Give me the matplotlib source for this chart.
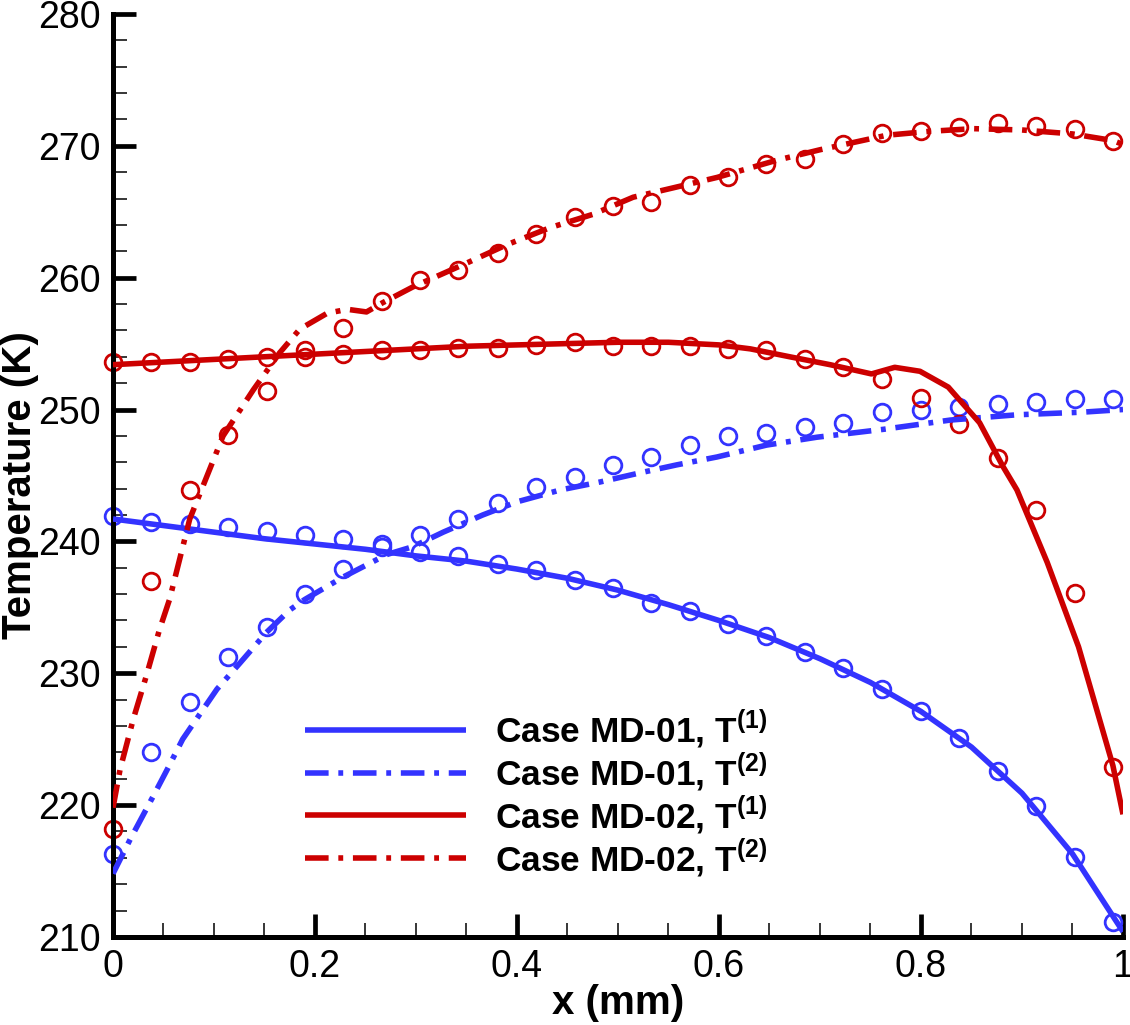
import matplotlib
matplotlib.use("Agg")
import matplotlib.pyplot as plt
from matplotlib.ticker import MultipleLocator

plt.rcParams['font.family'] = ['Liberation Sans', 'DejaVu Sans']
plt.rcParams['mathtext.fontset'] = 'custom'
plt.rcParams['mathtext.rm'] = 'Liberation Sans'
plt.rcParams['mathtext.bf'] = 'Liberation Sans:bold'
plt.rcParams['lines.scale_dashes'] = False

# ---------------- data ----------------
x_mk = [0.000, 0.038, 0.076, 0.114, 0.152, 0.190, 0.228, 0.266, 0.304, 0.342,
        0.381, 0.419, 0.457, 0.495, 0.533, 0.571, 0.609, 0.647, 0.685, 0.723,
        0.761, 0.800, 0.838, 0.876, 0.914, 0.952, 0.990]
md01_t1_mk = [241.9, 241.5, 241.3, 241.1, 240.8, 240.5, 240.2, 239.6, 239.2, 238.9,
              238.3, 237.8, 237.1, 236.5, 235.3, 234.7, 233.7, 232.8, 231.6, 230.4,
              228.8, 227.1, 225.1, 222.6, 219.9, 216.1, 211.1]
md01_t2_mk = [216.3, 224.0, 227.8, 231.2, 233.5, 236.0, 237.9, 239.8, 240.5, 241.7,
              242.9, 244.1, 244.9, 245.8, 246.4, 247.3, 248.0, 248.2, 248.7, 249.0,
              249.8, 250.0, 250.2, 250.4, 250.6, 250.8, 250.8]
md02_t1_mk = [253.6, 253.6, 253.6, 253.8, 254.0, 254.0, 254.2, 254.5, 254.5, 254.7,
              254.7, 254.9, 255.1, 254.8, 254.8, 254.8, 254.6, 254.5, 253.8, 253.2,
              252.3, 250.9, 248.9, 246.3, 242.4, 236.1, 222.9]
md02_t2_mk = [218.2, 237.0, 243.9, 248.1, 251.4, 254.5, 256.2, 258.2, 259.8, 260.6,
              261.9, 263.3, 264.6, 265.4, 265.7, 267.0, 267.6, 268.6, 269.0, 270.1,
              271.0, 271.1, 271.4, 271.7, 271.5, 271.3, 270.4]

x_md01_t1 = [0.0, 0.05, 0.1, 0.15, 0.2, 0.25, 0.3, 0.35, 0.4, 0.45, 0.5,
             0.55, 0.6, 0.65, 0.7, 0.75, 0.8, 0.85, 0.9, 0.95, 1.0]
y_md01_t1 = [241.7, 241.2, 240.7, 240.2, 239.8, 239.4, 238.9, 238.5, 237.9, 237.2, 236.3,
             235.2, 234.0, 232.7, 231.1, 229.3, 227.1, 224.4, 220.9, 216.3, 210.4]

x_md01_t2 = [0.0, 0.017, 0.04, 0.053, 0.069, 0.086, 0.103, 0.126, 0.152, 0.175,
             0.19, 0.228, 0.271, 0.297, 0.327, 0.366, 0.40, 0.443, 0.482, 0.522,
             0.558, 0.598, 0.647, 0.697, 0.763, 0.829, 0.895, 0.96, 1.0]
y_md01_t2 = [214.8, 217.4, 220.7, 222.6, 225.0, 226.9, 228.8, 230.8, 233.1, 234.8,
             235.6, 237.3, 239.0, 239.6, 240.7, 242.0, 243.0, 243.9, 244.5, 245.2,
             245.8, 246.4, 247.3, 247.9, 248.5, 249.2, 249.6, 249.8, 250.0]

x_md02_t1 = [0.0, 0.05, 0.1, 0.15, 0.2, 0.25, 0.3, 0.35, 0.4, 0.45, 0.5, 0.55, 0.6,
             0.631, 0.67, 0.71, 0.751, 0.774, 0.799, 0.827, 0.858, 0.881, 0.895,
             0.925, 0.956, 0.99, 1.0]
y_md02_t1 = [253.4, 253.6, 253.8, 254.0, 254.2, 254.4, 254.6, 254.8, 254.9, 255.0, 255.1,
             255.1, 254.9, 254.6, 254.0, 253.4, 252.7, 253.2, 252.9, 251.7, 249.0,
             245.7, 243.9, 238.4, 232.0, 223.0, 219.3]

x_md02_t2 = [0.0, 0.007, 0.02, 0.033, 0.046, 0.056, 0.076, 0.109, 0.139, 0.165,
             0.185, 0.212, 0.232, 0.251, 0.267, 0.297, 0.35, 0.39, 0.433, 0.475,
             0.515, 0.554, 0.598, 0.657, 0.70, 0.736, 0.766, 0.809, 0.852, 0.90,
             0.95, 0.99, 1.0]
y_md02_t2 = [219.8, 222.7, 226.5, 229.8, 233.3, 235.6, 241.7, 248.0, 251.5, 254.3,
             256.1, 257.3, 257.6, 257.4, 258.1, 259.3, 261.1, 262.5, 263.8, 264.8,
             266.1, 266.8, 267.6, 268.9, 269.7, 270.3, 270.8, 271.1, 271.3, 271.2,
             270.9, 270.4, 270.1]

labels = [r"Case MD-01, T$^{\mathbf{(1)}}$", r"Case MD-01, T$^{\mathbf{(2)}}$",
          r"Case MD-02, T$^{\mathbf{(1)}}$", r"Case MD-02, T$^{\mathbf{(2)}}$"]

xticks = [0, 0.2, 0.4, 0.6, 0.8, 1.0]
xticklabels = ["0", "0.2", "0.4", "0.6", "0.8", "1"]
yticks = [210, 220, 230, 240, 250, 260, 270, 280]

# ---------------- style ----------------
blue = '#3333ff'
red = '#cc0000'
dashdot = (0, (17, 7, 3.5, 7))
lw = 4.0

fig = plt.figure(figsize=(11.3, 10.25), dpi=100)
ax = fig.add_axes([0.1, 0.0859, 0.8938, 0.9005])

series = [
    (x_md01_t1, y_md01_t1, md01_t1_mk, blue, '-'),
    (x_md01_t2, y_md01_t2, md01_t2_mk, blue, dashdot),
    (x_md02_t1, y_md02_t1, md02_t1_mk, red, '-'),
    (x_md02_t2, y_md02_t2, md02_t2_mk, red, dashdot),
]
handles = []
for (xl, yl, ym, c, ls), lab in zip(series, labels):
    ax.plot(x_mk, ym, linestyle='none', marker='o', markersize=12,
            markerfacecolor='none', markeredgecolor=c, markeredgewidth=2.0,
            clip_on=False, zorder=2)
    h, = ax.plot(xl, yl, color=c, linestyle=ls, linewidth=lw, label=lab,
                 solid_capstyle='butt', dash_capstyle='butt', zorder=3)
    handles.append(h)

ax.set_xlim(0, 1)
ax.set_ylim(210, 280)
ax.set_xticks(xticks)
ax.set_xticklabels(xticklabels)
ax.set_yticks(yticks)
ax.xaxis.set_minor_locator(MultipleLocator(0.05))
ax.yaxis.set_minor_locator(MultipleLocator(2))

for s in ['top', 'right']:
    ax.spines[s].set_visible(False)
for s in ['left', 'bottom']:
    ax.spines[s].set_linewidth(3.6)

ax.tick_params(which='major', direction='in', length=16.8, width=3.4,
               labelsize=27, pad=9, top=False, right=False)
ax.tick_params(which='minor', direction='in', length=10, width=1.1,
               top=False, right=False)

ax.set_xlabel("x (mm)", fontsize=29, fontweight='bold')
ax.set_ylabel("Temperature (K)", fontsize=29, fontweight='bold')
ax.xaxis.set_label_coords(0.5, -0.051)
ax.yaxis.set_label_coords(-0.073, 0.49)

leg = ax.legend(handles=handles, loc='lower left', bbox_to_anchor=(0.19, 0.063),
                frameon=False, prop={'size': 25.4, 'weight': 'bold'},
                handlelength=4.57, handletextpad=0.82, labelspacing=0.0,
                borderaxespad=0.0, borderpad=0.0)

fig.savefig("out.png", dpi=100)
